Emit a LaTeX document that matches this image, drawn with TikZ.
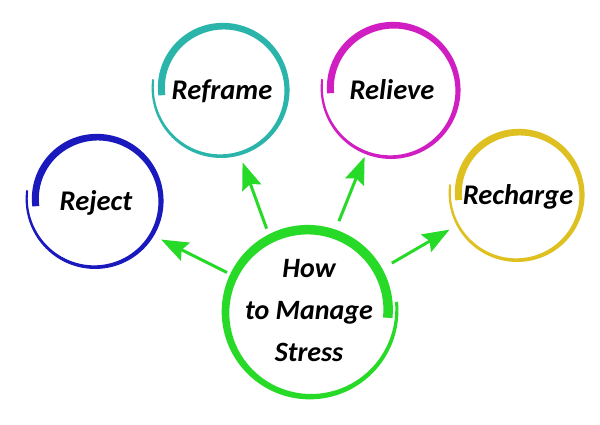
\documentclass[tikz,border=0pt]{standalone}
\usepackage{fontspec}
\setmainfont{Carlito}
\usetikzlibrary{arrows.meta}
\definecolor{cBlue}{RGB}{25,25,190}
\definecolor{cTeal}{RGB}{42,180,170}
\definecolor{cMag}{RGB}{208,30,195}
\definecolor{cYel}{RGB}{222,192,32}
\definecolor{cGreen}{RGB}{40,218,40}
\tikzset{
  ring/.style={circle, draw=none, inner sep=0pt, minimum size=#1},
  lbl/.style={font=\fontsize{28.5}{33}\selectfont\bfseries\itshape, text height=21pt, text depth=0pt},
  mainlbl/.style={font=\fontsize{28}{42}\selectfont\bfseries\itshape, align=center},
  arr/.style={cGreen, line width=3pt, -{Stealth[length=27pt,width=20pt,inset=4pt]}}
}
% #1 node, #2 mid radius, #3 start angle, #4 sweep, #5 radius change, #6 start width, #7 end width, #8 colour, #9 t at full width
\newcommand{\brushring}[9]{%
  \begin{scope}[shift={(#1.center)}]
    \fill[#8] plot[domain=0:1,samples=160,variable=\t]
      ({#3+(#4)*\t}:{#2+(#5)*(0.5-\t)+0.5*(#6+(#7-#6)*min(1,\t/#9))})
      -- plot[domain=0:1,samples=160,variable=\t]
      ({#3+(#4)*(1-\t)}:{#2+(#5)*(\t-0.5)-0.5*(#6+(#7-#6)*min(1,(1-\t)/#9))})
      -- cycle;
  \end{scope}}
\begin{document}
\begin{tikzpicture}[x=1pt,y=1pt]
  \fill[white] (0,0) rectangle (600,425);
  \useasboundingbox (0,0) rectangle (600,425);

  \node[ring=132pt, lbl] (reject)   at (96,225)  {Reject};
  \node[ring=132pt, lbl] (reframe)  at (222,336) {Reframe};
  \node[ring=134pt, lbl] (relieve)  at (392,336) {Relieve};
  \node[ring=130pt, lbl] (recharge) at (518,231) {Recharge};
  \node[ring=167pt, mainlbl] (main) at (309,114) {How\\to Manage\\Stress};

  \brushring{reject}{65}{172}{374}{9}{2}{7}{cBlue}{0.8}
  \brushring{reframe}{65}{172}{374}{9}{2}{7}{cTeal}{0.8}
  \brushring{relieve}{66}{172}{372}{9}{2}{7}{cMag}{0.8}
  \brushring{recharge}{64}{172}{374}{9}{2}{7}{cYel}{0.8}
  \brushring{main}{83.5}{6}{-371}{9}{3}{9.5}{cGreen}{0.7}

  \draw[arr, shorten <=7pt, shorten >=10pt] (main.155) -- (reject.-32);
  \draw[arr, shorten <=9pt, shorten >=10pt] (main.118) -- (reframe.-75);
  \draw[arr, shorten <=11pt, shorten >=6pt] (main.72) -- (relieve.-112);
  \draw[arr, shorten <=12pt, shorten >=12pt] (main.30) -- (recharge.-153);
\end{tikzpicture}
\end{document}
